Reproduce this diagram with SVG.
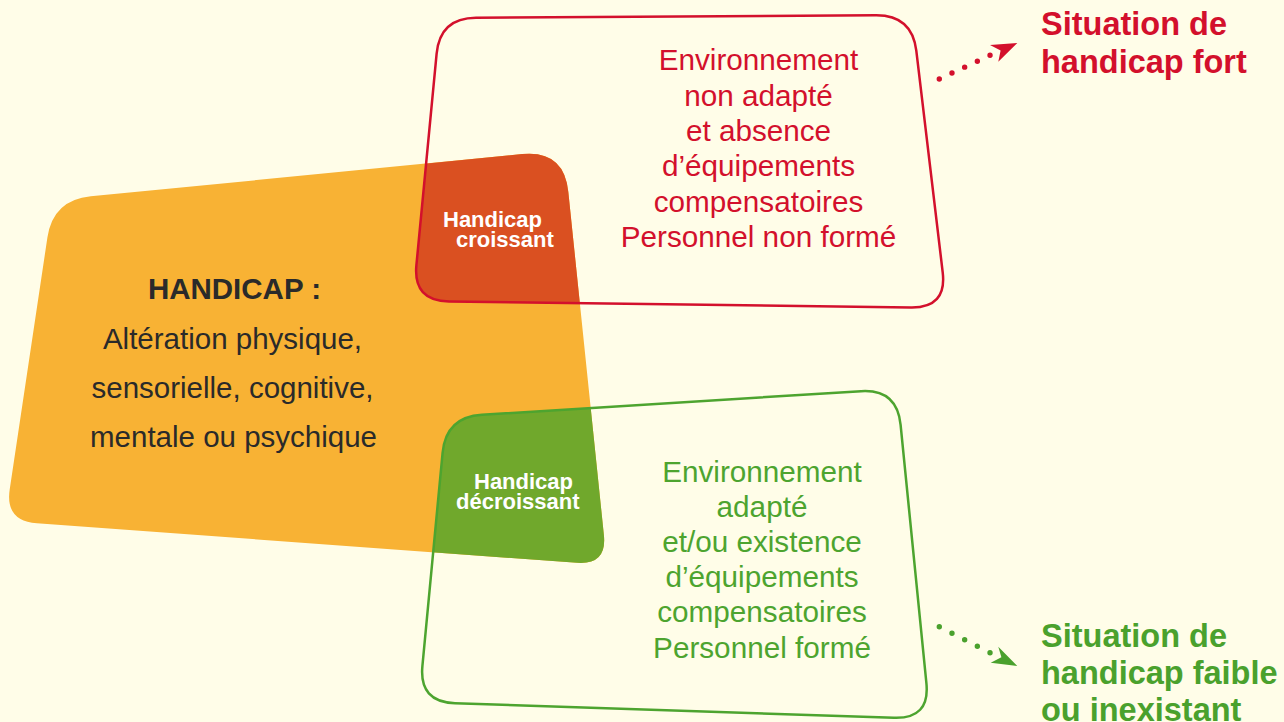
<svg xmlns="http://www.w3.org/2000/svg" width="1284" height="722" viewBox="0 0 1284 722">
<style>
.txt{font-family:"Liberation Sans",Arial,Helvetica,sans-serif}
.main{font-size:29.5px;fill:#2a2a2a;text-anchor:middle}
.redt{font-size:29.7px;fill:#d3102c;text-anchor:middle}
.grnt{font-size:29.7px;fill:#4da42f;text-anchor:middle}
.lbl{font-size:22px;font-weight:bold;fill:#ffffff}
.ttl{font-size:32.5px;font-weight:bold}
</style>
<defs>
<path id="shpO" d="M90.8,196.3 L522.2,154.1 Q564,150 568.3,191.8 L603.9,535.2 Q607,565 577.1,562.8 L36.9,523.3 Q5,521 9.7,489.4 L47.4,237.6 Q53,200 90.8,196.3 Z"/>
<path id="shpR" d="M476,17.8 L876,15.2 Q912,15 916.3,50.7 L942.7,272.3 Q947,308 911,307.5 L449,301.5 Q413,301 416.4,265.2 L436.6,53.8 Q440,18 476,17.8 Z"/>
<path id="shpG" d="M481.9,414.8 L861.1,391.2 Q897,389 900.6,424.8 L926.4,683.2 Q930,719 894,717.8 L455,703.2 Q419,702 422.4,666.2 L442.6,452.8 Q446,417 481.9,414.8 Z"/>
<clipPath id="clipR"><use href="#shpR"/></clipPath>
<clipPath id="clipG"><use href="#shpG"/></clipPath>
</defs>
<rect width="1284" height="722" fill="#fffde8"/>
<g id="node-handicap">
<use href="#shpO" fill="#f8b234"/>
<text class="txt main" x="234.5" y="299" font-weight="bold">HANDICAP :</text>
<text class="txt main" x="232.5" y="349">Altération physique,</text>
<text class="txt main" x="232.5" y="398">sensorielle, cognitive,</text>
<text class="txt main" x="233.5" y="447">mentale ou psychique</text>
</g>
<g id="overlap-red">
<use href="#shpO" fill="#da5021" clip-path="url(#clipR)"/>
<text class="txt lbl" x="443" y="227">Handicap</text>
<text class="txt lbl" x="456" y="247">croissant</text>
</g>
<g id="overlap-green">
<use href="#shpO" fill="#70a82c" clip-path="url(#clipG)"/>
<text class="txt lbl" x="474" y="489">Handicap</text>
<text class="txt lbl" x="456" y="509">décroissant</text>
</g>
<g id="node-env-non-adapte">
<use href="#shpR" fill="none" stroke="#d3102c" stroke-width="2.5"/>
<text class="txt redt" x="758.5" y="70">Environnement</text>
<text class="txt redt" x="758.5" y="106">non adapté</text>
<text class="txt redt" x="758.5" y="141">et absence</text>
<text class="txt redt" x="758.5" y="176">d’équipements</text>
<text class="txt redt" x="758.5" y="212">compensatoires</text>
<text class="txt redt" x="758.5" y="247">Personnel non formé</text>
</g>
<g id="node-env-adapte">
<use href="#shpG" fill="none" stroke="#4da42f" stroke-width="2.5"/>
<text class="txt grnt" x="762" y="482">Environnement</text>
<text class="txt grnt" x="762" y="517">adapté</text>
<text class="txt grnt" x="762" y="552">et/ou existence</text>
<text class="txt grnt" x="762" y="587">d’équipements</text>
<text class="txt grnt" x="762" y="622">compensatoires</text>
<text class="txt grnt" x="762" y="658">Personnel formé</text>
</g>
<g id="node-fort">
<text class="txt ttl" x="1041" y="35" fill="#d3102c">Situation de</text>
<text class="txt ttl" x="1041" y="73" fill="#d3102c">handicap fort</text>
</g>
<g id="node-faible">
<text class="txt ttl" x="1041" y="647" fill="#4aa12d">Situation de</text>
<text class="txt ttl" x="1041" y="684" fill="#4aa12d">handicap faible</text>
<text class="txt ttl" x="1041" y="721" fill="#4aa12d">ou inexistant</text>
</g>
<g id="connectors">
<path d="M939.3,79 L990.2,55.2" fill="none" stroke="#d3102c" stroke-width="5.4" stroke-linecap="round" stroke-dasharray="0 14"/>
<path d="M990,45 L1017.3,43 L998.3,61.7 L1000.6,50.6 Z" fill="#d3102c"/>
<path d="M939.3,626.7 L990.2,652.8" fill="none" stroke="#4aa12d" stroke-width="5.4" stroke-linecap="round" stroke-dasharray="0 14.25"/>
<path d="M998.3,646.7 L1017.3,666 L990.7,662.7 L1001.4,657.2 Z" fill="#4aa12d"/>
</g>
</svg>
